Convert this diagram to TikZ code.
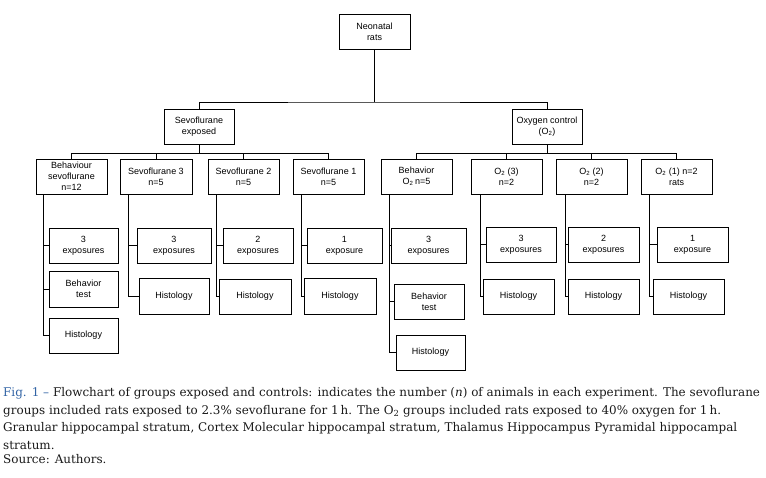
\documentclass[tikz,border=0pt]{standalone}
\usepackage{fontspec}
\setmainfont{DejaVu Serif}
\newfontfamily\boxfont{Liberation Sans}
\usepackage{graphicx}
\definecolor{figblue}{RGB}{50,100,165}
\definecolor{captext}{RGB}{25,25,25}
\begin{document}
\begin{tikzpicture}[x=1pt,y=-1pt,
  box/.style={draw, line width=0.8pt, inner sep=1pt, align=center,
    font=\boxfont\fontsize{9}{11}\selectfont, minimum height=35pt},
  link/.style={line width=0.8pt},
  capline/.style={anchor=base west, inner sep=0pt, text=captext,
    font=\fontsize{11.95}{17}\selectfont}]
\useasboundingbox (0,0) rectangle (766,477);
% level 1 and 2
\node[box, minimum width=71pt] (neo) at (374.5,31.5) {Neonatal\\rats};
\node[box, minimum width=70pt] (sexp) at (199,126.5) {Sevoflurane\\exposed};
\node[box, minimum width=70pt] (oxy) at (547,126.5) {Oxygen control\\(O\textsubscript{2})};
% level 3
\node[box, minimum width=71pt] (b1) at (71.5,176.5) {Behaviour\\sevoflurane\\n=12};
\node[box, minimum width=72pt] (s3) at (156,176.5) {Sevoflurane 3\\n=5};
\node[box, minimum width=71pt] (s2) at (243.5,176.5) {Sevoflurane 2\\n=5};
\node[box, minimum width=71pt] (s1) at (328.5,176.5) {Sevoflurane 1\\n=5};
\node[box, minimum width=71pt] (b2) at (416.5,176.5) {Behavior\\O\textsubscript{2}\,n=5};
\node[box, minimum width=71pt] (o3) at (506.5,176.5) {O\textsubscript{2} (3)\\n=2};
\node[box, minimum width=71pt] (o2) at (591.5,176.5) {O\textsubscript{2} (2)\\n=2};
\node[box, minimum width=71pt] (o1) at (676.5,176.5) {O\textsubscript{2} (1) n=2\\rats};
% level 4
\node[box, minimum width=69pt] (c1a) at (83.5,245.5) {3\\exposures};
\node[box, minimum width=69pt, minimum height=36pt] (c1b) at (83.5,289) {Behavior\\test};
\node[box, minimum width=69pt] (c1c) at (83.5,335.5) {Histology};
\node[box, minimum width=74pt] (c2a) at (174,245.5) {3\\exposures};
\node[box, minimum width=70pt, minimum height=36pt] (c2b) at (174,296) {Histology};
\node[box, minimum width=70pt] (c3a) at (258,245.5) {2\\exposures};
\node[box, minimum width=72pt] (c3b) at (255,296.5) {Histology};
\node[box, minimum width=75pt] (c4a) at (344.5,245.5) {1\\exposure};
\node[box, minimum width=72pt, minimum height=36pt] (c4b) at (340,296) {Histology};
\node[box, minimum width=75pt] (c5a) at (428.5,245.5) {3\\exposures};
\node[box, minimum width=70pt] (c5b) at (429,301.5) {Behavior\\test};
\node[box, minimum width=69pt] (c5c) at (430.5,352.5) {Histology};
\node[box, minimum width=70pt] (c6a) at (521,244.5) {3\\exposures};
\node[box, minimum width=71pt] (c6b) at (518.5,296.5) {Histology};
\node[box, minimum width=71pt] (c7a) at (603.5,244.5) {2\\exposures};
\node[box, minimum width=71pt] (c7b) at (603.5,296.5) {Histology};
\node[box, minimum width=71pt] (c8a) at (692.5,244.5) {1\\exposure};
\node[box, minimum width=71pt] (c8b) at (688.5,296.5) {Histology};
% junctions
\coordinate (j0) at (374.5,102);
\coordinate (j1) at (199,153);
\coordinate (j2) at (547,153);
\draw[link] (neo.south) -- (j0);
\draw[link] (sexp.north) |- (j0) -| (oxy.north);
\draw[link] (sexp.south) -- (j1);
\draw[link] (oxy.south) -- (j2);
\foreach \n in {b1,s3,s2,s1} \draw[link] (\n.north) |- (j1);
\foreach \n in {b2,o3,o2,o1} \draw[link] (\n.north) |- (j2);
% column connectors
\coordinate (d1) at (43,194);
\coordinate (d2) at (128,194);
\coordinate (d3) at (216,194);
\coordinate (d4) at (301,194);
\coordinate (d5) at (389,194);
\coordinate (d6) at (480,194);
\coordinate (d7) at (565,194);
\coordinate (d8) at (649,194);
\draw[link] (d1) |- (c1a.west);
\draw[link] (d1) |- (c1b.west);
\draw[link] (d1) |- (c1c.west);
\draw[link] (d2) |- (c2a.west);
\draw[link] (d2) |- (c2b.west);
\draw[link] (d3) |- (c3a.west);
\draw[link] (d3) |- (c3b.west);
\draw[link] (d4) |- (c4a.west);
\draw[link] (d4) |- (c4b.west);
\draw[link] (d5) |- (c5a.west);
\draw[link] (d5) |- (c5b.west);
\draw[link] (d5) |- (c5c.west);
\draw[link] (d6) |- (c6a.west);
\draw[link] (d6) |- (c6b.west);
\draw[link] (d7) |- (c7a.west);
\draw[link] (d7) |- (c7b.west);
\draw[link] (d8) |- (c8a.west);
\draw[link] (d8) |- (c8b.west);
% caption
\node[capline] (cap1) at (3,396) {\textcolor{figblue}{Fig. 1 –} Flowchart of groups exposed and controls: indicates the number (\textit{n}) of animals in each experiment. The sevoflurane};
\node[capline] (cap2) at (3,414) {groups included rats exposed to 2.3\% sevoflurane for 1\,h. The O\textsubscript{2} groups included rats exposed to 40\% oxygen for 1\,h.};
\node[capline] (cap3) at (3,431) {Granular hippocampal stratum, Cortex Molecular hippocampal stratum, Thalamus Hippocampus Pyramidal hippocampal};
\node[capline] (cap4) at (3,449) {stratum.};
\node[capline] (cap5) at (3,463) {Source: Authors.};
\end{tikzpicture}
\end{document}
